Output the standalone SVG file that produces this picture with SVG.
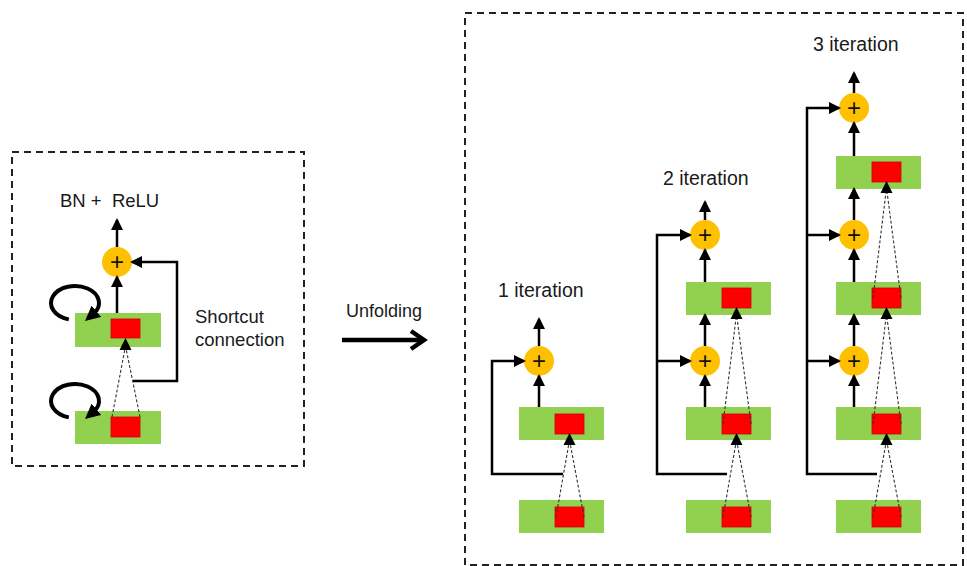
<svg xmlns="http://www.w3.org/2000/svg" width="967" height="566" viewBox="0 0 967 566">
<style>
  .frame{fill:none;stroke:#222;stroke-width:2;stroke-dasharray:7 5}
  .green{fill:#92D050}
  .red{fill:#FF0000;stroke:#D00000;stroke-width:0.8}
  .sum{fill:#FFC000}
  .plus{font-family:"Liberation Sans",Arial,sans-serif;font-size:24px;fill:#111;text-anchor:middle}
  .lbl{font-family:"Liberation Sans",Arial,sans-serif;fill:#1a1a1a}
  .arr{fill:none;stroke:#000;stroke-width:2.5;marker-end:url(#ah)}
  .dot{fill:none;stroke:#333;stroke-width:1.1;stroke-dasharray:3 2}
  .loop{fill:none;stroke:#000;stroke-width:4;marker-end:url(#lh)}
  .head{fill:#000}
</style>
<defs>
  <marker id="ah" markerUnits="userSpaceOnUse" markerWidth="12" markerHeight="12" refX="10" refY="6" orient="auto">
    <path d="M0,0 L12,6 L0,12 z" fill="#000"/>
  </marker>
  <marker id="lh" markerUnits="userSpaceOnUse" markerWidth="15" markerHeight="15" refX="4" refY="7.5" orient="auto">
    <path d="M0,0 L15,7.5 L0,15 z" fill="#000"/>
  </marker>
</defs>
<rect width="967" height="566" fill="#fff"/>

<!-- frames -->
<rect class="frame" x="12" y="152" width="292" height="314"/>
<rect class="frame" x="465" y="13" width="498" height="552"/>

<!-- labels -->
<text class="lbl" x="60" y="207" font-size="18.5" xml:space="preserve" style="white-space:pre">BN +  ReLU</text>
<text class="lbl" x="195" y="323" font-size="18.5">Shortcut</text>
<text class="lbl" x="195" y="346" font-size="18.5">connection</text>
<text class="lbl" x="346" y="317" font-size="18">Unfolding</text>
<text class="lbl" x="498" y="297" font-size="19.5">1 iteration</text>
<text class="lbl" x="663" y="185" font-size="19.5">2 iteration</text>
<text class="lbl" x="813" y="51" font-size="19.5">3 iteration</text>

<!-- left panel nodes -->
<g id="L-layer2"><rect class="green" x="75" y="313" width="86" height="34"/><rect class="red" x="111" y="319" width="29" height="19"/></g>
<g id="L-layer1"><rect class="green" x="75" y="411" width="86" height="33"/><rect class="red" x="111" y="417" width="29" height="20"/></g>
<g id="L-sum"><circle class="sum" cx="117" cy="262" r="15"/><text class="plus" x="117" y="270">+</text></g>

<!-- column 1 -->
<g id="C1-layer1"><rect class="green" x="519" y="500" width="85" height="33"/><rect class="red" x="555" y="507" width="29" height="20"/></g>
<g id="C1-layer2"><rect class="green" x="519" y="407" width="85" height="33"/><rect class="red" x="555" y="414" width="29" height="20"/></g>
<g id="C1-sum1"><circle class="sum" cx="539" cy="361" r="15"/><text class="plus" x="539" y="369">+</text></g>

<!-- column 2 -->
<g id="C2-layer1"><rect class="green" x="686" y="500" width="85" height="33"/><rect class="red" x="722" y="507" width="29" height="20"/></g>
<g id="C2-layer2"><rect class="green" x="686" y="407" width="85" height="33"/><rect class="red" x="722" y="414" width="29" height="20"/></g>
<g id="C2-layer3"><rect class="green" x="686" y="282" width="85" height="33"/><rect class="red" x="722" y="288" width="29" height="20"/></g>
<g id="C2-sum1"><circle class="sum" cx="705" cy="361" r="15"/><text class="plus" x="705" y="369">+</text></g>
<g id="C2-sum2"><circle class="sum" cx="705" cy="235" r="15"/><text class="plus" x="705" y="243">+</text></g>

<!-- column 3 -->
<g id="C3-layer1"><rect class="green" x="836" y="500" width="85" height="33"/><rect class="red" x="872" y="507" width="29" height="20"/></g>
<g id="C3-layer2"><rect class="green" x="836" y="407" width="85" height="33"/><rect class="red" x="872" y="414" width="29" height="20"/></g>
<g id="C3-layer3"><rect class="green" x="836" y="282" width="85" height="33"/><rect class="red" x="872" y="288" width="29" height="20"/></g>
<g id="C3-layer4"><rect class="green" x="836" y="156" width="85" height="33"/><rect class="red" x="872" y="162" width="29" height="20"/></g>
<g id="C3-sum1"><circle class="sum" cx="854" cy="361" r="15"/><text class="plus" x="854" y="369">+</text></g>
<g id="C3-sum2"><circle class="sum" cx="854" cy="235" r="15"/><text class="plus" x="854" y="243">+</text></g>
<g id="C3-sum3"><circle class="sum" cx="854" cy="108" r="15"/><text class="plus" x="854" y="116">+</text></g>

<g id="connectors">
  <!-- left panel -->
  <path class="arr" d="M117,247 V220"/>
  <path class="arr" d="M117,313 V277"/>
  <path class="arr" d="M133,381 H177 V262 H132"/>
  <path class="loop" d="M68.8,319.4 A24,17 0 1 1 93.4,313.9"/>
  <path class="loop" d="M68.8,417.4 A24,17 0 1 1 93.4,411.9"/>
  <path class="dot" d="M112,417 L125.5,346 M140,417 L125.5,346"/>
  <polygon class="head" points="125.5,338 131.5,350 119.5,350"/>

  <!-- unfolding arrow -->
  <path d="M342,340 H423" fill="none" stroke="#000" stroke-width="4.5"/>
  <polyline points="411,331 424,340 411,349" fill="none" stroke="#000" stroke-width="4.5" stroke-linejoin="miter"/>

  <!-- column 1 -->
  <path class="arr" d="M539,346 V319"/>
  <path class="arr" d="M539,407 V376"/>
  <path class="arr" d="M563,474 H492 V361 H524"/>
  <path class="dot" d="M556,517 L569.5,440 M584,517 L569.5,440"/>
  <polygon class="head" points="569.5,433 575.5,445 563.5,445"/>

  <!-- column 2 -->
  <path class="arr" d="M705,220 V202"/>
  <path class="arr" d="M705,282 V250"/>
  <path class="arr" d="M705,346 V315"/>
  <path class="arr" d="M705,407 V376"/>
  <path class="arr" d="M727,474 H657 V235 H690"/>
  <path class="arr" d="M657,361 H690"/>
  <path class="dot" d="M723,517 L736.5,440 M751,517 L736.5,440"/>
  <polygon class="head" points="736.5,433 742.5,445 730.5,445"/>
  <path class="dot" d="M723,424 L736.5,314 M751,424 L736.5,314"/>
  <polygon class="head" points="736.5,307 742.5,319 730.5,319"/>

  <!-- column 3 -->
  <path class="arr" d="M854,93 V73"/>
  <path class="arr" d="M854,156 V123"/>
  <path class="arr" d="M854,220 V189"/>
  <path class="arr" d="M854,282 V250"/>
  <path class="arr" d="M854,346 V315"/>
  <path class="arr" d="M854,407 V376"/>
  <path class="arr" d="M877,474 H807 V108 H839"/>
  <path class="arr" d="M807,235 H839"/>
  <path class="arr" d="M807,361 H839"/>
  <path class="dot" d="M873,517 L886.5,440 M901,517 L886.5,440"/>
  <polygon class="head" points="886.5,433 892.5,445 880.5,445"/>
  <path class="dot" d="M873,424 L886.5,314 M901,424 L886.5,314"/>
  <polygon class="head" points="886.5,307 892.5,319 880.5,319"/>
  <path class="dot" d="M873,298 L886.5,188 M901,298 L886.5,188"/>
  <polygon class="head" points="886.5,181 892.5,193 880.5,193"/>
</g>
</svg>
